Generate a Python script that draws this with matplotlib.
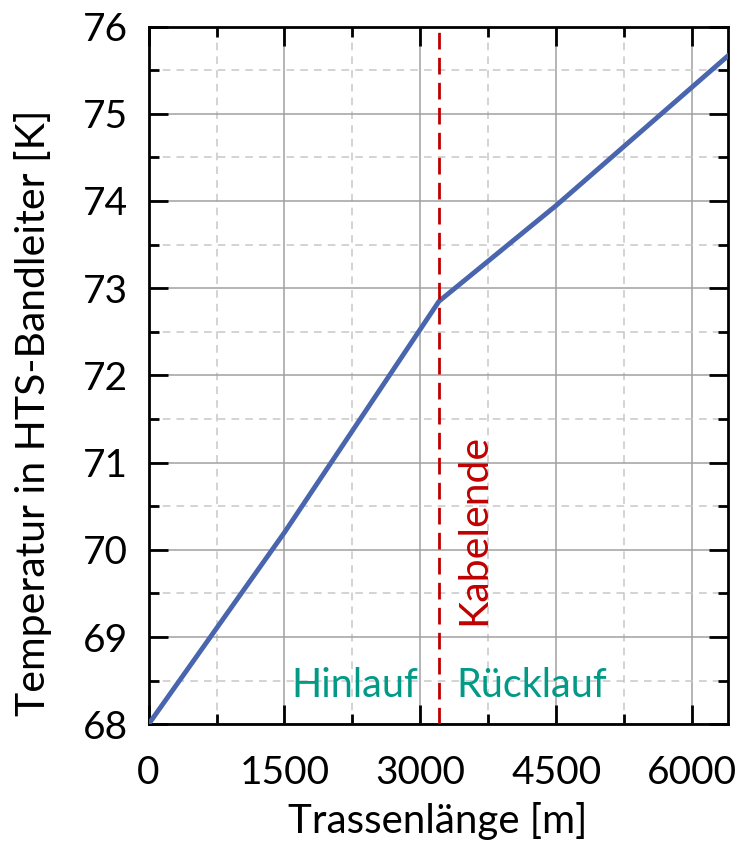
import numpy as np
import matplotlib
matplotlib.use('Agg')
import matplotlib.pyplot as plt
from matplotlib.ticker import MultipleLocator

plt.rcParams['font.family'] = ['Lato', 'DejaVu Sans']

# temperature along the route
trasse_m = [0, 1500, 3205, 4500, 6389]
temp_k = [68.0, 70.2, 72.85, 73.95, 75.66]

kabelende_m = 3205

fig = plt.figure(figsize=(7.39, 8.42), dpi=100)
ax = fig.add_axes([0.201, 0.1398, 0.7835, 0.8287])

ax.plot(trasse_m, temp_k, color='#4865ad', linewidth=3.5, zorder=3)
ax.axvline(kabelende_m, color='#c00000', linestyle=(0, (6, 3)), linewidth=2, zorder=4)

ax.set_xlim(0, 6389)
ax.set_ylim(68, 76)
ax.xaxis.set_major_locator(MultipleLocator(1500))
ax.xaxis.set_minor_locator(MultipleLocator(750))
ax.yaxis.set_major_locator(MultipleLocator(1))
ax.yaxis.set_minor_locator(MultipleLocator(0.5))

ax.grid(which='major', color='#a0a0a0', linewidth=1.1, linestyle='-')
ax.grid(which='minor', color='#c8c8c8', linewidth=1.1, linestyle=(0, (5, 4)))

ax.tick_params(which='both', direction='in', top=True, right=True, width=2, colors='black')
ax.tick_params(which='major', length=14, labelsize=28)
ax.tick_params(axis='x', which='major', pad=22)
ax.tick_params(axis='y', which='major', pad=15)
ax.tick_params(which='minor', length=7)
for sp in ax.spines.values():
    sp.set_linewidth(2)

ax.set_xlabel('Trassenlänge [m]', fontsize=29, labelpad=8)
ax.set_ylabel('Temperatur in HTS-Bandleiter [K]', fontsize=29.5)
ax.yaxis.set_label_coords(-0.167, 0.446)

ax.text(2976, 68.31, 'Hinlauf', color='#009a87', fontsize=28.5, ha='right', va='baseline')
ax.text(3400, 68.31, 'Rücklauf', color='#009a87', fontsize=28.5, ha='left', va='baseline')
ax.text(3590, 69.14, 'Kabelende', color='#c00000', fontsize=29.5, rotation=90,
        ha='center', va='bottom')

fig.savefig('out.png', dpi=100)
